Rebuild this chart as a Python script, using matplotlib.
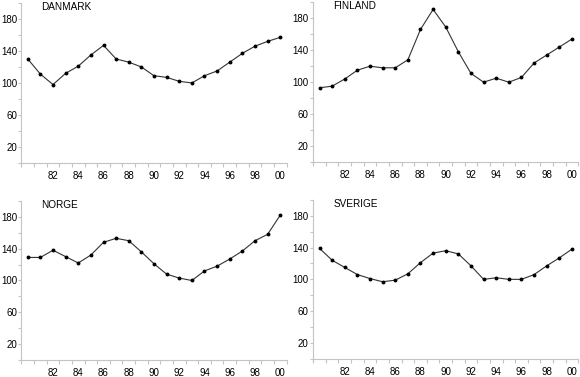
import matplotlib.pyplot as plt
import numpy as np

plt.rcParams['font.family'] = ['Liberation Sans', 'DejaVu Sans']

# years 1980-2000 (shown as 80..100 on the x axis)
years = np.arange(80, 101)

danmark = [130, 111, 98, 112, 121, 135, 147, 130, 126, 120, 109, 107, 102, 100,
           109, 115, 126, 137, 146, 152, 157]
finland = [93, 95, 104, 115, 120, 118, 118, 128, 166, 191, 169, 138, 111, 100,
           105, 100, 106, 124, 134, 144, 154]
norge = [129, 129, 138, 130, 122, 132, 148, 153, 150, 136, 121, 108, 103, 100,
         112, 118, 127, 137, 150, 158, 182]
sverige = [139, 124, 115, 106, 101, 97, 99, 107, 121, 133, 136, 132, 117, 100,
           102, 100, 100, 106, 117, 127, 138]

names = ['DANMARK', 'FINLAND', 'NORGE', 'SVERIGE']
series = [danmark, finland, norge, sverige]

xlabel_pos = np.arange(82, 101, 2)
xlabels = ['82', '84', '86', '88', '90', '92', '94', '96', '98', '00']
ytick_pos = np.arange(0, 201, 20)
ylabels = ['' if v % 40 == 0 else str(v) for v in ytick_pos]

# axes boxes in figure fractions [left, bottom, width, height]
boxes = [[0.037, 0.568, 0.457, 0.424],
         [0.540, 0.570, 0.457, 0.424],
         [0.037, 0.045, 0.457, 0.422],
         [0.540, 0.048, 0.457, 0.422]]

fig = plt.figure(figsize=(5.8, 3.77), dpi=100)
spine_col = '#c4c4c4'

for box, name, vals in zip(boxes, names, series):
    ax = fig.add_axes(box)
    ax.plot(years, vals, color='#333333', linewidth=0.8, marker='o',
            markersize=1.8, markerfacecolor='black', markeredgecolor='black')
    ax.set_xlim(79.5, 100.5)
    ax.set_ylim(0, 200)

    for s in ['top', 'right']:
        ax.spines[s].set_visible(False)
    for s in ['left', 'bottom']:
        ax.spines[s].set_color(spine_col)
        ax.spines[s].set_linewidth(0.8)

    # labels at year centres, ticks at year boundaries
    ax.set_xticks(xlabel_pos)
    ax.set_xticklabels(xlabels)
    ax.set_xticks(np.arange(79.5, 100.6, 1), minor=True)
    ax.tick_params(axis='x', which='major', length=0, pad=6, labelsize=7)
    ax.tick_params(axis='x', which='minor', length=3, color=spine_col, width=0.8)

    ax.set_yticks(ytick_pos)
    ax.set_yticklabels(ylabels)
    ax.tick_params(axis='y', length=2, color=spine_col, width=0.8, pad=1.2,
                   labelsize=7)

    ax.text(0.075, 0.975, name, transform=ax.transAxes, fontsize=7.2,
            ha='left', va='center')

plt.savefig('out.png', dpi=100)
